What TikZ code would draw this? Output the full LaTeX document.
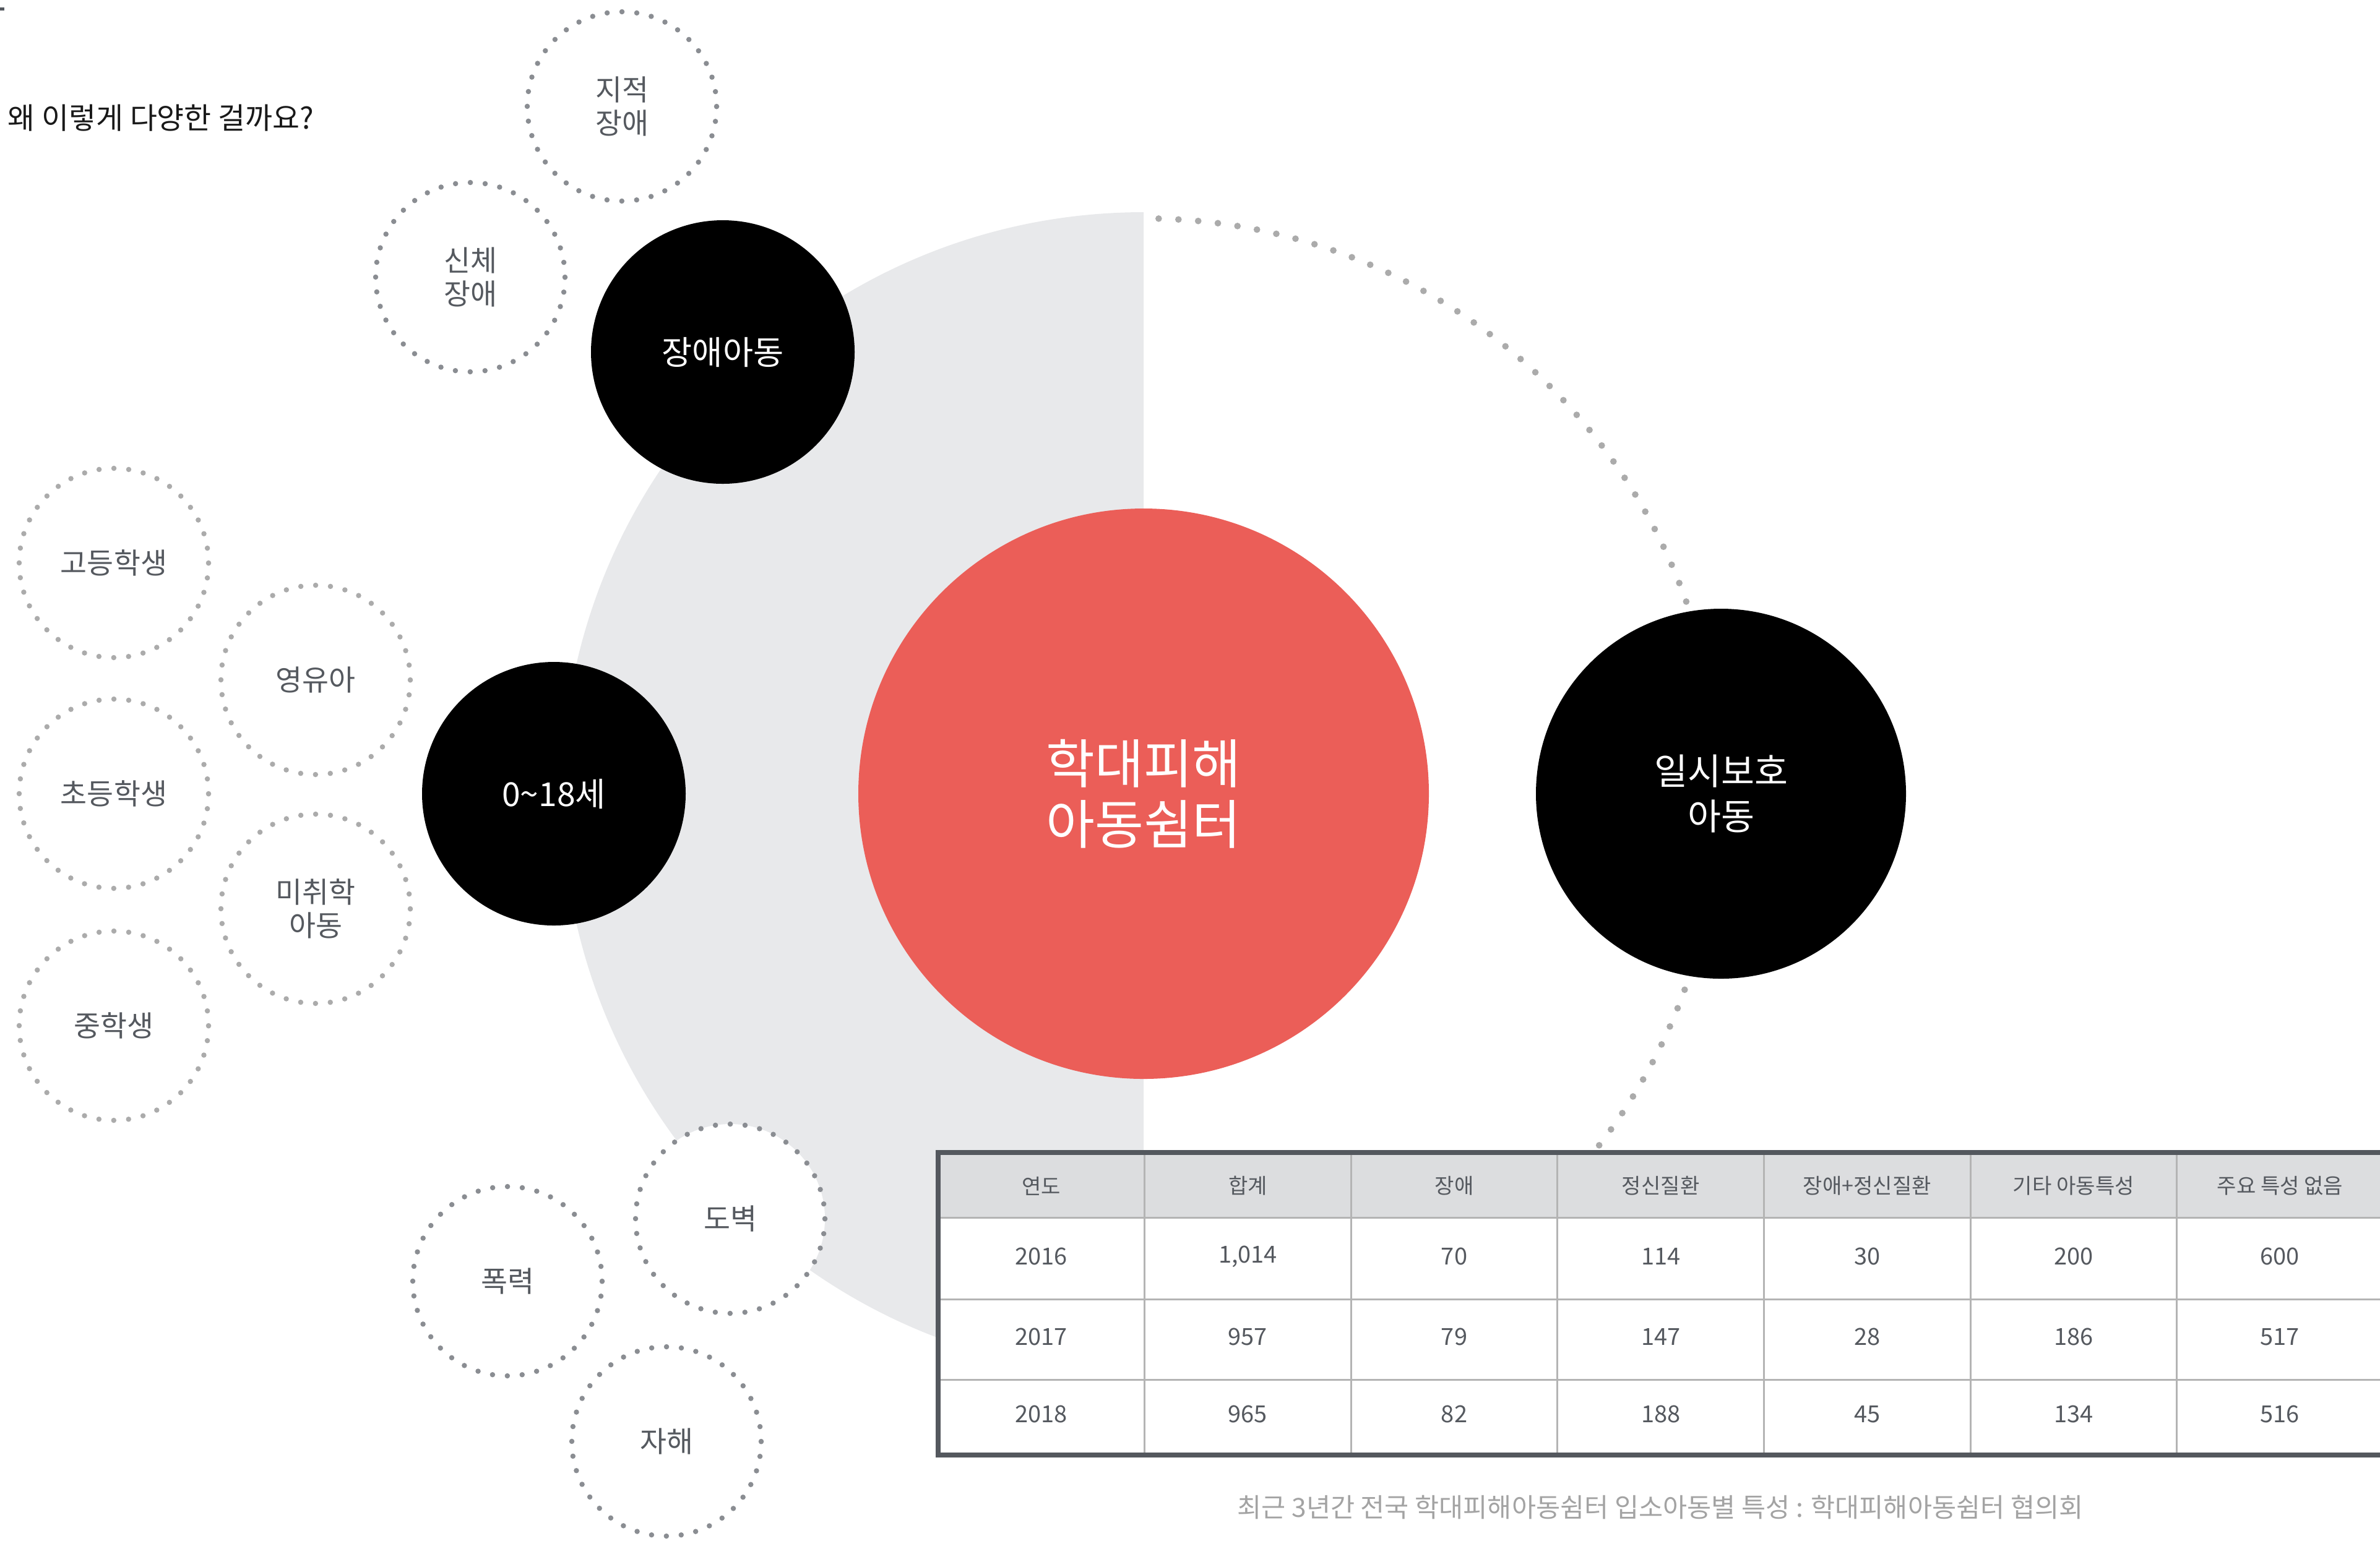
\documentclass[tikz,border=0pt]{standalone}
\usepackage{fontspec}
\setmainfont{Noto Sans CJK KR}
\definecolor{shelterred}{HTML}{EB5E58}
\definecolor{halfgray}{HTML}{E8E9EB}
\definecolor{textgray}{HTML}{55595F}
\definecolor{rulegray}{HTML}{B4B4B4}
\definecolor{headgray}{HTML}{DCDDDF}
\definecolor{framegray}{HTML}{54585E}
\definecolor{dotdark}{HTML}{8A8D92}
\definecolor{dotlight}{HTML}{ABABAB}
\definecolor{notegray}{HTML}{A3A3A3}
\tikzset{
  kindcirc/.style={circle, fill=white, draw=#1, line width=0.85mm, line cap=round,
    dash pattern=on 0pt off 2.403mm, minimum size=30.6mm, inner sep=0pt,
    text=textgray, align=center, font=\fontsize{13.3pt}{15.4pt}\selectfont},
  kindcirc/.default=dotdark,
  groupcirc/.style={circle, fill=black, minimum size=42.6mm, inner sep=0pt,
    text=white, align=center, font=\fontsize{15.2pt}{18pt}\selectfont},
  headcell/.style={text=textgray, font=\fontsize{9.7pt}{11pt}\selectfont},
  datacell/.style={text=textgray, font=\fontsize{10.8pt}{12pt}\selectfont}
}
\begin{document}
\begin{tikzpicture}[line join=round, line cap=round]
\useasboundingbox (0,0) rectangle (38.46,-24.90);
% half disc and dotted arc
\fill[halfgray] (18.48,-3.43) arc[start angle=90, end angle=270, radius=9.40] -- cycle;
\draw[dotlight, line width=1.07mm, dash pattern=on 0pt off 3.2mm]
  (18.48,-12.83) ++(88.5:9.30) arc[start angle=88.5, end angle=-38, radius=9.30];
% main circles
\node[circle, fill=shelterred, minimum size=92.2mm, inner sep=0pt, text=white, align=center,
  font=\fontsize{24.4pt}{27.9pt}\selectfont] (shelter) at (18.48,-12.83) {학대피해\\아동쉼터};
\node[groupcirc] (disabled) at (11.68,-5.69) {장애아동};
\node[groupcirc] (age) at (8.95,-12.83) {0\textasciitilde18세};
\node[groupcirc, minimum size=59.8mm, font=\fontsize{16.7pt}{20.8pt}\selectfont] (temp) at (27.81,-12.83) {일시보호\\아동};
% dotted circles
\node[kindcirc] (mental) at (10.05,-1.72) {지적\\장애};
\node[kindcirc] (body) at (7.60,-4.48) {신체\\장애};
\foreach \nm/\x/\y/\txt in {high/1.84/-9.10/고등학생, infant/5.10/-10.99/영유아,
  elem/1.84/-12.83/초등학생, presch/5.10/-14.69/{미취학\\아동}, middle/1.84/-16.58/중학생}
  \node[kindcirc=dotlight] (\nm) at (\x,\y) {\txt};
\foreach \nm/\x/\y/\txt in {theft/11.80/-19.70/도벽, violence/8.20/-20.71/폭력, selfharm/10.77/-23.30/자해}
  \node[kindcirc] (\nm) at (\x,\y) {\txt};
% table
\fill[white] (15.16,-18.63) rectangle (38.60,-23.52);
\fill[headgray] (15.16,-18.63) rectangle (38.60,-19.685);
\foreach \y in {-19.685,-21.00,-22.30}
  \draw[rulegray, line width=0.3mm, line cap=butt] (15.16,\y) -- (38.60,\y);
\foreach \i in {1,...,6}
  \draw[rulegray, line width=0.3mm, line cap=butt] ({15.16+3.336*\i},-18.63) -- ({15.16+3.336*\i},-23.52);
\draw[framegray, line width=0.8mm, line cap=butt, line join=miter] (38.60,-18.63) -- (15.16,-18.63) -- (15.16,-23.52) -- (38.60,-23.52);
\foreach \h [count=\i] in {연도,합계,장애,정신질환,장애+정신질환,기타 아동특성,주요 특성 없음}
  \node[headcell] (h\i) at ({15.16+3.336*(\i-0.5)},-19.17) {\h};
\foreach \v [count=\i] in {2016,{1,014},70,114,30,200,600}
  \node[datacell] (a\i) at ({15.16+3.336*(\i-0.5)},-20.31) {\v};
\foreach \v [count=\i] in {2017,957,79,147,28,186,517}
  \node[datacell] (b\i) at ({15.16+3.336*(\i-0.5)},-21.61) {\v};
\foreach \v [count=\i] in {2018,965,82,188,45,134,516}
  \node[datacell] (c\i) at ({15.16+3.336*(\i-0.5)},-22.86) {\v};
% texts
\node[text=notegray, font=\fontsize{12.1pt}{14pt}\selectfont] (note) at (26.83,-24.36)
  {최근 3년간 전국 학대피해아동쉼터 입소아동별 특성 : 학대피해아동쉼터 협의회};
\node[anchor=west, inner sep=0pt, text=black!90, font=\fontsize{13.6pt}{16pt}\selectfont] (title) at (0.12,-1.91)
  {왜 이렇게 다양한 걸까요?};
\fill[framegray] (0,-0.12) rectangle (0.07,-0.17);
\end{tikzpicture}
\end{document}
